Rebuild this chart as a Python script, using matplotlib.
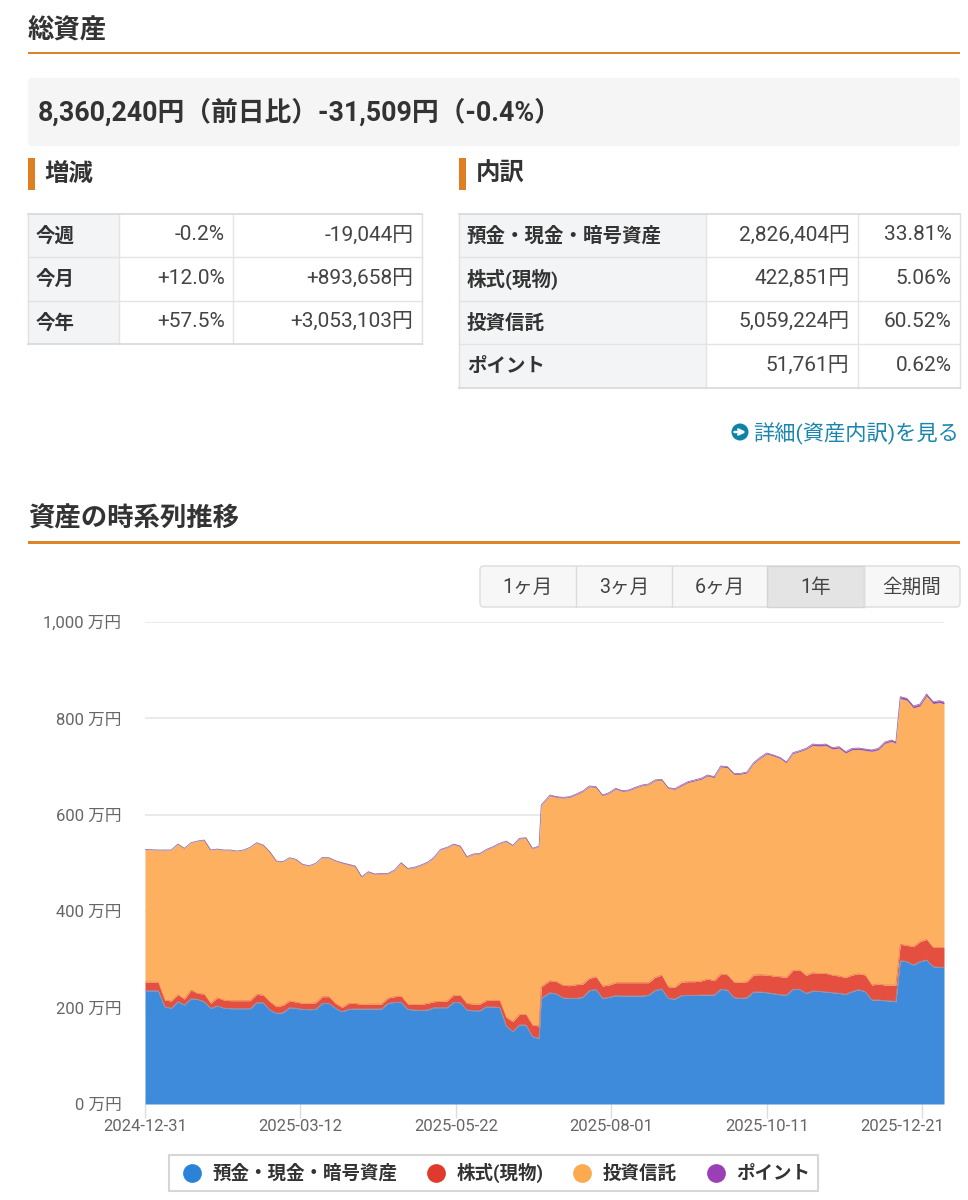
import numpy as np
import pandas as pd
import matplotlib
matplotlib.use('agg')
import matplotlib.pyplot as plt
from matplotlib.patches import Rectangle, FancyBboxPatch, Circle
from matplotlib.lines import Line2D
from matplotlib.transforms import ScaledTranslation

plt.rcParams['font.family'] = ['Roboto', 'Noto Sans CJK JP', 'DejaVu Sans']

W, H = 968, 1200

# days after 2024-12-31, values are stacked tops in 万円
day_offsets = (list(range(0, 178, 3)) + [180, 181] + list(range(185, 342, 3)) + [343]
               + list(range(345, 364, 3)) + [365])

cash_top = [235, 235, 235, 201.9, 198.5, 212.3, 205.4, 218.5, 217.1, 212.3,
            198.5, 203.3, 199.1, 197.8, 197.8, 197.8, 197.8, 210.2, 210.2, 195,
            188.1, 189.4, 199.8, 198.5, 196.4, 195.7, 196.4, 208.8, 208.8, 198.5,
            191.5, 196.4, 197.1, 197.1, 197.1, 197.1, 197.1, 208.8, 210.9, 210.9,
            196.4, 195, 194.3, 195, 199.8, 199.8, 199.8, 210.9, 210.2, 195,
            193.6, 193.6, 201.9, 201.2, 200.5, 161.8, 150, 163.9, 163.9, 139.7,
            136.2, 219.2,
            231, 228.2, 219.9, 219.2, 219.2, 221.3, 235.1, 237.9, 219.2, 221.3,
            224.8, 224.1, 224.1, 224.1, 224.1, 225.4, 235.8, 238.6, 219.2, 217.8,
            224.8, 225.4, 225.4, 226.1, 226.1, 226.1, 237.9, 236.5, 220.6, 219.2,
            220.6, 232.4, 232.4, 231, 228.9, 226.8, 226.1, 237.9, 237.9, 229.6,
            234.4, 233.7, 232.4, 231, 229.6, 227.5, 233.1, 237.2, 233.1, 215.8,
            215.8, 214.4, 213.7, 212.3,
            297.4, 295.3, 288.4, 295.3, 298.8, 284.9, 283.5, 283.5]

stock_top = [253, 253, 253, 215.7, 213.7, 226.8, 217.8, 236.5, 229.6, 228.2,
             208.8, 220.6, 215.7, 214.4, 214.4, 214.4, 214.4, 227.5, 226.1, 212.3,
             201.9, 204.7, 213.7, 211.6, 208.8, 208.8, 210.2, 222.7, 222.7, 208.8,
             200.5, 208.8, 208.8, 206.7, 207.4, 207.4, 207.4, 219.9, 222.7, 224,
             207.4, 206.7, 206.7, 208.8, 212.3, 213, 213.7, 226.1, 225.4, 208.8,
             207.4, 207.4, 215, 215, 215, 179.8, 170.8, 186, 186, 163.9,
             161.8, 243.4,
             255.9, 253.8, 246.2, 245.5, 247.6, 249, 260.7, 264.2, 244.8, 246.9,
             251.7, 251.7, 251.7, 251.7, 251.7, 251.7, 262.8, 267.6, 243.4, 242,
             253.1, 253.8, 253.8, 255.2, 259.3, 255.9, 269.7, 268.3, 253.1, 252.4,
             253.8, 267.6, 268.3, 267.6, 265.6, 264.2, 262.8, 277.3, 278, 266.9,
             272.5, 271.1, 271.1, 267.6, 265.6, 262.1, 267.6, 270.4, 267.6, 246.9,
             249, 246.9, 246.9, 246.9,
             331.3, 329.2, 326.4, 336.8, 341.6, 325, 325, 325]

total_top = [528.3, 527.6, 527, 527, 527, 539.4, 530.4, 542.2, 545.6, 547.7,
             527, 529, 527, 527, 524.9, 527, 532.5, 542.2, 537.3, 523.5,
             504.1, 502.8, 511, 507.6, 497.2, 494.5, 499.3, 511.7, 511, 504.8,
             500.7, 497.2, 493.8, 471.6, 482, 477.2, 478.5, 478.5, 485.5, 500.7,
             488.9, 491, 495.8, 501.4, 511.7, 528.3, 532.5, 539.4, 535.3, 513.1,
             518.7, 520, 528.3, 533.9, 540.8, 545.6, 536.6, 551.2, 552.5, 530.4,
             535.3, 620.3,
             641.1, 637.6, 636.3, 637.6, 643.2, 649.4, 659.8, 658.4, 641.1, 645.9,
             654.9, 650.1, 651.5, 657, 661.8, 663.9, 672.2, 673.6, 656.3, 654.2,
             661.8, 668.8, 672.2, 675.7, 682.6, 679.1, 701.3, 699.9, 686, 686,
             688.8, 708.2, 719.2, 728.2, 724.1, 719.2, 709.6, 728.9, 733.1, 737.9,
             746.9, 745.5, 746.9, 739.3, 741.4, 731, 737.9, 738.6, 736.5, 734.5,
             737.9, 751.1, 755.2, 751.1,
             845.1, 841.7, 825.8, 829.9, 850.7, 834.7, 836.8, 834]

point_values = [0.5, 0.5, 0.5, 0.5, 0.5, 0.5, 0.5, 0.5, 0.5, 0.5,
                0.5, 0.5, 0.5, 0.5, 0.5, 0.5, 0.5, 0.5, 0.5, 0.5,
                0.5, 0.5, 0.5, 0.5, 0.5, 0.5, 0.5, 0.5, 0.5, 0.5,
                1, 1, 1, 1, 1, 1, 1, 1, 1, 1,
                1, 1, 1, 1, 1, 1, 1, 1, 1, 1,
                1, 1, 1, 1, 1, 1, 1, 1, 1, 1,
                1, 1,
                1.5, 1.5, 1.5, 1.5, 1.5, 1.5, 1.5, 1.5, 1.5, 1.5,
                1.5, 1.5, 1.5, 1.5, 1.5, 1.5, 1.5, 1.5, 1.5, 1.5,
                2, 2, 2, 2, 2, 2, 2, 2, 2, 2,
                2, 2, 2, 2, 2, 2, 2, 2, 2, 2,
                3, 3, 3, 3, 3, 3, 3, 3, 3, 3,
                3, 3, 3, 3,
                4, 4, 4, 4, 4, 4, 4, 4]

series_names = ['預金・現金・暗号資産', '株式(現物)', '投資信託', 'ポイント']
series_colors = ['#3e8bdb', '#e44f3f', '#fdb060', '#9c4fb4']
legend_colors = ['#2b82d9', '#e03a2c', '#fbaa50', '#9b3fb6']

y_ticks = [0, 200, 400, 600, 800, 1000]
x_tick_days = [0, 71, 142, 213, 284, 355]
x_tick_labels = ['2024-12-31', '2025-03-12', '2025-05-22', '2025-08-01', '2025-10-11', '2025-12-21']

change_rows = [['今週', '-0.2%', '-19,044円'],
               ['今月', '+12.0%', '+893,658円'],
               ['今年', '+57.5%', '+3,053,103円']]
breakdown_rows = [['預金・現金・暗号資産', '2,826,404円', '33.81%'],
                  ['株式(現物)', '422,851円', '5.06%'],
                  ['投資信託', '5,059,224円', '60.52%'],
                  ['ポイント', '51,761円', '0.62%']]
range_buttons = ['1ヶ月', '3ヶ月', '6ヶ月', '1年', '全期間']

ORANGE = '#dd8429'
TXT = '#333333'


def px_axes(fig, left, top, right, bottom):
    return fig.add_axes([left / W, 1 - bottom / H, (right - left) / W, (bottom - top) / H])


def draw_table(ax, rows, col_x, row_y, header_size=14):
    ax.add_patch(Rectangle((col_x[0], row_y[0]), col_x[1] - col_x[0], row_y[-1] - row_y[0],
                           fc='#f3f4f6', ec='none'))
    for y in row_y[1:-1]:
        ax.plot([col_x[0], col_x[-1]], [y, y], color='#e4e4e4', lw=1)
    for x in col_x[1:-1]:
        ax.plot([x, x], [row_y[0], row_y[-1]], color='#e4e4e4', lw=1)
    for x in (col_x[0], col_x[-1]):
        ax.plot([x, x], [row_y[0], row_y[-1]], color='#e0e0e0', lw=1)
    for y in (row_y[0], row_y[-1]):
        ax.plot([col_x[0], col_x[-1]], [y, y], color='#d8d8d8', lw=1.2)
    for i, row in enumerate(rows):
        yc = (row_y[i] + row_y[i + 1]) / 2
        ax.text(col_x[0] + 8, yc + 0.8, row[0], fontsize=header_size, fontweight='bold', color=TXT,
                ha='left', va='center')
        ax.text(col_x[2] - 8.5, yc - 0.5, row[1], fontsize=15, color='#444444', ha='right', va='center')
        ax.text(col_x[3] - 8.5, yc - 0.5, row[2], fontsize=15, color='#444444', ha='right', va='center')


fig = plt.figure(figsize=(W / 100, H / 100), dpi=100, facecolor='white')

# page furniture in pixel coordinates
ui = fig.add_axes([0, 0, 1, 1])
ui.set_xlim(0, W)
ui.set_ylim(H, 0)
ui.axis('off')

ui.text(28, 31, '総資産', fontsize=19, fontweight='bold', color=TXT, ha='left', va='center')
ui.add_patch(Rectangle((28, 51.5), 932, 2.5, fc=ORANGE, ec='none'))
ui.add_patch(FancyBboxPatch((30, 80), 928, 64, boxstyle='round,pad=2,rounding_size=3',
                            fc='#f5f5f6', ec='none'))
ui.text(38, 112, '8,360,240円（前日比）-31,509円（-0.4%）', fontsize=19.3, fontweight='bold',
        color=TXT, ha='left', va='center')

ui.add_patch(Rectangle((28, 158), 6.5, 32, fc='#e07f22', ec='none'))
ui.text(44, 174, '増減', fontsize=17.6, fontweight='bold', color=TXT, ha='left', va='center')
ui.add_patch(Rectangle((459, 158), 6.5, 32, fc='#e07f22', ec='none'))
ui.text(475.5, 174, '内訳', fontsize=17.6, fontweight='bold', color=TXT, ha='left', va='center')

draw_table(ui, change_rows, [28, 118.5, 233, 422], [214, 257, 300.5, 344])
draw_table(ui, breakdown_rows, [459, 705.5, 858, 960], [214, 257, 300.5, 344, 387.5])

ui.add_patch(Circle((740, 432), 8.5, fc='#0d83a8', ec='none'))
ui.annotate('', xy=(746, 432), xytext=(734.5, 432),
            arrowprops=dict(arrowstyle='->', color='white', lw=1.8, mutation_scale=9, shrinkA=0, shrinkB=0))
ui.text(959, 434, '詳細(資産内訳)を見る', fontsize=15.3, color='#1a86ad', ha='right', va='center')

ui.text(28, 519, '資産の時系列推移', fontsize=19, fontweight='bold', color=TXT, ha='left', va='center')
ui.add_patch(Rectangle((28, 541), 932, 2.5, fc=ORANGE, ec='none'))

button_edges = [480, 576, 672, 767, 864, 960]
ui.add_patch(FancyBboxPatch((482, 568), 476, 37, boxstyle='round,pad=2,rounding_size=4',
                            fc='#f7f7f7', ec='#dcdcdc', lw=1))
for i, label in enumerate(range_buttons):
    if label == '1年':
        ui.add_patch(Rectangle((button_edges[i], 566), button_edges[i + 1] - button_edges[i], 41,
                               fc='#e4e4e4', ec='#d4d4d4', lw=1))
    elif i > 0:
        ui.plot([button_edges[i], button_edges[i]], [566, 607], color='#dcdcdc', lw=1)
    ui.text((button_edges[i] + button_edges[i + 1]) / 2, 593, label, fontsize=14.1, color='#444444',
            ha='center', va='baseline')

# the chart itself
ax = px_axes(fig, 145, 622, 944, 1104)
ax.patch.set_alpha(0)
dates = pd.Timestamp('2024-12-31') + pd.to_timedelta(day_offsets, unit='D')
cash = np.array(cash_top)
stock = np.array(stock_top)
total = np.array(total_top)
fund = total - np.array(point_values)

ax.fill_between(dates, 0, cash, color=series_colors[0], lw=0, zorder=3)
ax.fill_between(dates, cash, stock, color=series_colors[1], lw=0, zorder=3)
ax.fill_between(dates, stock, fund, color=series_colors[2], lw=0, zorder=3)
ax.fill_between(dates, fund, total, color=series_colors[3], lw=0, zorder=3)
ax.plot(dates, cash, color='#8a9cb4', lw=0.6, zorder=4)
ax.plot(dates, stock, color='#e8734f', lw=0.4, zorder=4)
ax.plot(dates, total, color='#8a5f8f', lw=0.5, zorder=4)

ax.set_xlim(dates[0], dates[-1])
ax.set_ylim(0, 1000)
ax.set_yticks(y_ticks)
ax.set_yticklabels([f'{v:,} 万円' for v in y_ticks])
tick_dates = pd.Timestamp('2024-12-31') + pd.to_timedelta(x_tick_days, unit='D')
ax.set_xticks(tick_dates)
ax.set_xticklabels(x_tick_labels)
ax.tick_params(axis='x', length=10, width=1, color='#dddddd', labelcolor='#666666', labelsize=12, pad=1)
ax.tick_params(axis='y', length=0, labelcolor='#666666', labelsize=12, pad=17)
# last date label is pushed right so it ends at the plot edge
last_label = ax.xaxis.get_ticklabels()[-1]
last_label.set_ha('right')
last_label.set_transform(last_label.get_transform() + ScaledTranslation(0.22, 0, fig.dpi_scale_trans))
ax.grid(axis='y', color='#e6e6e6', lw=1.2, zorder=1)
ax.set_axisbelow(True)
for side in ax.spines:
    ax.spines[side].set_visible(False)

handles = [Line2D([], [], ls='none', marker='o', ms=13.5, mfc=c, mec='none') for c in legend_colors]
leg = fig.legend(handles, series_names, loc='center', bbox_to_anchor=(493.5 / W, 1 - 1173 / H), ncol=4,
                 frameon=True, fancybox=False, edgecolor='#cccccc', facecolor='white',
                 prop={'size': 13.3, 'weight': 'bold'}, handlelength=1.6, handletextpad=0.3,
                 columnspacing=1.31, borderpad=0.45, labelcolor=TXT)
leg.get_frame().set_linewidth(1.5)

fig.savefig('out.png', dpi=100)
